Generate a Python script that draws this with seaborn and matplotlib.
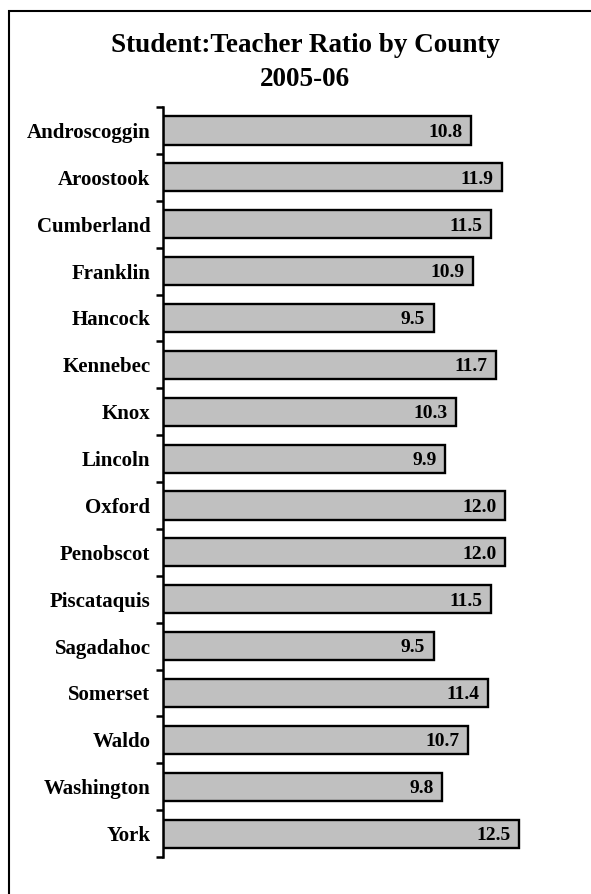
import matplotlib
matplotlib.use("Agg")
import matplotlib.pyplot as plt
import seaborn as sns
import pandas as pd
import numpy as np
from matplotlib.patches import Rectangle

counties = ["Androscoggin", "Aroostook", "Cumberland", "Franklin", "Hancock",
            "Kennebec", "Knox", "Lincoln", "Oxford", "Penobscot", "Piscataquis",
            "Sagadahoc", "Somerset", "Waldo", "Washington", "York"]
ratios = [10.8, 11.9, 11.5, 10.9, 9.5, 11.7, 10.3, 9.9, 12.0, 12.0, 11.5,
          9.5, 11.4, 10.7, 9.8, 12.5]
title_lines = ["Student:Teacher Ratio by County", "2005-06"]

df = pd.DataFrame({"county": counties, "ratio": ratios})

sns.set_theme(style="white")
plt.rcParams["font.family"] = ["Liberation Serif", "DejaVu Serif"]
plt.rcParams["text.color"] = "black"
plt.rcParams["ytick.color"] = "black"
plt.rcParams["ytick.labelcolor"] = "black"

W, H = 591, 894
fig = plt.figure(figsize=(W / 100, H / 100), dpi=100)
ax = fig.add_axes([163 / W, 1 - 857 / H, (576 - 163) / W, (857 - 107) / H])

sns.barplot(data=df, x="ratio", y="county", orient="h", ax=ax,
            color="#C0C0C0", saturation=1, width=0.6,
            edgecolor="black", linewidth=1.7)

ax.set_xlim(0, 14.5)
ax.set_ylim(len(counties) - 0.5, -0.5)
ax.set_xlabel("")
ax.set_ylabel("")
ax.set_xticks([])
for s in ["top", "right", "bottom"]:
    ax.spines[s].set_visible(False)
ax.spines["left"].set_linewidth(1.8)
ax.spines["left"].set_color("black")

ax.set_yticks(range(len(counties)))
ax.set_yticklabels(counties, fontsize=15, fontweight="bold", color="black")
ax.tick_params(axis="y", which="major", length=0, pad=9)
ax.set_yticks(np.arange(-0.5, len(counties), 1.0), minor=True)
ax.tick_params(axis="y", which="minor", length=5, width=1.8, color="black",
               direction="out", left=True)

for i, v in enumerate(ratios):
    ax.text(v - 0.3, i + 0.04, f"{v:.1f}", ha="right", va="center",
            fontsize=14, fontweight="bold", color="black")

fig.text(305 / W, 1 - 46 / H, title_lines[0], ha="center", va="center",
         fontsize=19.5, fontweight="bold", color="black")
fig.text(305 / W, 1 - 80 / H, title_lines[1], ha="center", va="center",
         fontsize=19.5, fontweight="bold", color="black")

fig.patches.append(Rectangle((9 / W, -0.05), 1.1, 1 - 11 / H + 0.05,
                             transform=fig.transFigure, fill=False,
                             edgecolor="black", linewidth=1.5, zorder=0))

fig.savefig("out.png", dpi=100)
